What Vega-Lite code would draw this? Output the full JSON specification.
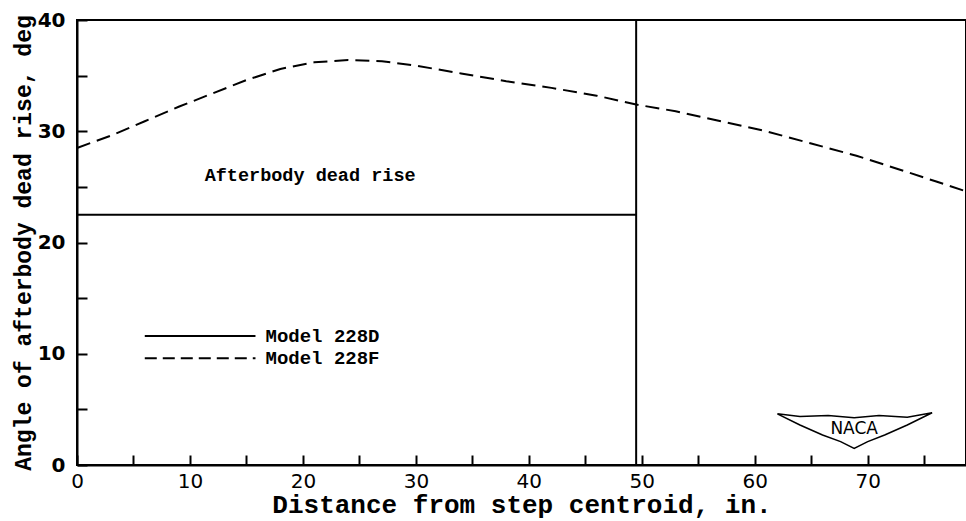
{
  "$schema": "https://vega.github.io/schema/vega-lite/v6.json",
  "width": 889,
  "height": 445,
  "autosize": {"type": "none"},
  "padding": {"left": 77, "top": 20, "right": 0, "bottom": 56},
  "background": "white",
  "config": {
    "view": {"stroke": "black", "strokeWidth": 2},
    "axis": {"domainColor": "black", "domainWidth": 2, "tickColor": "black", "tickWidth": 2, "grid": false,
             "labelColor": "black", "titleColor": "black"}
  },
  "datasets": {
    "f": [
      {"x": 0, "y": 28.5}, {"x": 3, "y": 29.6}, {"x": 6, "y": 30.9}, {"x": 9, "y": 32.2},
      {"x": 12, "y": 33.4}, {"x": 15, "y": 34.6}, {"x": 18, "y": 35.6}, {"x": 21, "y": 36.2},
      {"x": 24, "y": 36.4}, {"x": 27, "y": 36.3}, {"x": 30, "y": 35.9}, {"x": 34, "y": 35.2},
      {"x": 38, "y": 34.5}, {"x": 42, "y": 33.9}, {"x": 46, "y": 33.2}, {"x": 49.5, "y": 32.4},
      {"x": 53, "y": 31.8}, {"x": 57, "y": 30.9}, {"x": 61, "y": 30.0}, {"x": 65, "y": 28.9},
      {"x": 69, "y": 27.8}, {"x": 73, "y": 26.5}, {"x": 76, "y": 25.5}, {"x": 78.7, "y": 24.6}
    ],
    "d": [{"x": 0, "y": 22.5}, {"x": 49.5, "y": 22.5}],
    "vline": [{"x": 49.5, "y": 0, "y2": 40}],
    "legend": [
      {"x": 6.0, "x2": 15.8, "y": 11.6, "model": "Model 228D", "dash": "solid"},
      {"x": 6.0, "x2": 15.8, "y": 9.6, "model": "Model 228F", "dash": "dashed"}
    ],
    "label": [{"x": 11.3, "y": 26.1, "text": "Afterbody dead rise"}],
    "logo": [
      {"o": 0, "x": 62.0, "y": 4.6}, {"o": 1, "x": 64.0, "y": 4.35}, {"o": 2, "x": 66.5, "y": 4.45},
      {"o": 3, "x": 68.8, "y": 4.25}, {"o": 4, "x": 71.0, "y": 4.45}, {"o": 5, "x": 73.5, "y": 4.3},
      {"o": 6, "x": 75.7, "y": 4.7}, {"o": 7, "x": 73.5, "y": 3.6}, {"o": 8, "x": 71.5, "y": 2.7},
      {"o": 9, "x": 70.0, "y": 2.1}, {"o": 10, "x": 68.8, "y": 1.5}, {"o": 11, "x": 67.6, "y": 2.1},
      {"o": 12, "x": 66.0, "y": 2.7}, {"o": 13, "x": 64.0, "y": 3.6}, {"o": 14, "x": 62.0, "y": 4.6}
    ],
    "logotext": [{"x": 68.8, "y": 3.2, "text": "NACA"}]
  },
  "layer": [
    {
      "data": {"name": "f"},
      "mark": {"type": "line", "color": "black", "strokeWidth": 2, "strokeDash": [14, 7]},
      "encoding": {
        "x": {"field": "x", "type": "quantitative",
              "scale": {"domain": [0, 78.7], "nice": false, "zero": false},
              "axis": {"values": [0, 5, 10, 15, 20, 25, 30, 35, 40, 45, 50, 55, 60, 65, 70, 75],
                       "labelExpr": "datum.value % 10 == 0 ? datum.label : ''",
                       "tickSize": -10,
                       "labelPadding": 16, "labelFont": "DejaVu Sans", "labelFontSize": 20,
                       "labelFlush": false,
                       "title": "Distance from step centroid, in.", "titleFont": "Liberation Mono",
                       "titleFontSize": 26, "titleFontWeight": "bold", "titlePadding": 0}},
        "y": {"field": "y", "type": "quantitative",
              "scale": {"domain": [0, 40], "nice": false},
              "axis": {"values": [0, 5, 10, 15, 20, 25, 30, 35, 40],
                       "labelExpr": "datum.value % 10 == 0 ? datum.label : ''",
                       "tickSize": -10,
                       "labelPadding": 22, "labelFont": "DejaVu Sans", "labelFontSize": 20,
                       "labelFontWeight": "bold", "labelFlush": false,
                       "title": "Angle of afterbody dead rise, deg", "titleFont": "Liberation Mono",
                       "titleFontSize": 23, "titleFontWeight": "bold", "titlePadding": 2}}
      }
    },
    {
      "data": {"name": "d"},
      "mark": {"type": "line", "color": "black", "strokeWidth": 2},
      "encoding": {"x": {"field": "x", "type": "quantitative"}, "y": {"field": "y", "type": "quantitative"}}
    },
    {
      "data": {"name": "vline"},
      "mark": {"type": "rule", "color": "black", "strokeWidth": 2},
      "encoding": {"x": {"field": "x", "type": "quantitative"}, "y": {"field": "y", "type": "quantitative"}, "y2": {"field": "y2"}}
    },
    {
      "data": {"name": "legend"},
      "mark": {"type": "rule", "color": "black", "strokeWidth": 2},
      "encoding": {
        "x": {"field": "x", "type": "quantitative"}, "x2": {"field": "x2"},
        "y": {"field": "y", "type": "quantitative"},
        "strokeDash": {"field": "dash", "type": "nominal",
                       "scale": {"domain": ["solid", "dashed"], "range": [[1, 0], [12, 6]]}, "legend": null}
      }
    },
    {
      "data": {"name": "legend"},
      "mark": {"type": "text", "align": "left", "baseline": "middle", "dx": 10, "font": "Liberation Mono",
               "fontWeight": "bold", "fontSize": 19, "color": "black"},
      "encoding": {"x": {"field": "x2", "type": "quantitative"}, "y": {"field": "y", "type": "quantitative"}, "text": {"field": "model"}}
    },
    {
      "data": {"name": "label"},
      "mark": {"type": "text", "align": "left", "baseline": "middle", "font": "Liberation Mono",
               "fontWeight": "bold", "fontSize": 18.5, "color": "black"},
      "encoding": {"x": {"field": "x", "type": "quantitative"}, "y": {"field": "y", "type": "quantitative"}, "text": {"field": "text"}}
    },
    {
      "data": {"name": "logo"},
      "mark": {"type": "line", "color": "black", "strokeWidth": 1.5},
      "encoding": {"x": {"field": "x", "type": "quantitative"}, "y": {"field": "y", "type": "quantitative"}, "order": {"field": "o"}}
    },
    {
      "data": {"name": "logotext"},
      "mark": {"type": "text", "align": "center", "baseline": "middle", "font": "DejaVu Sans",
               "fontSize": 17, "color": "black"},
      "encoding": {"x": {"field": "x", "type": "quantitative"}, "y": {"field": "y", "type": "quantitative"}, "text": {"field": "text"}}
    }
  ]
}
